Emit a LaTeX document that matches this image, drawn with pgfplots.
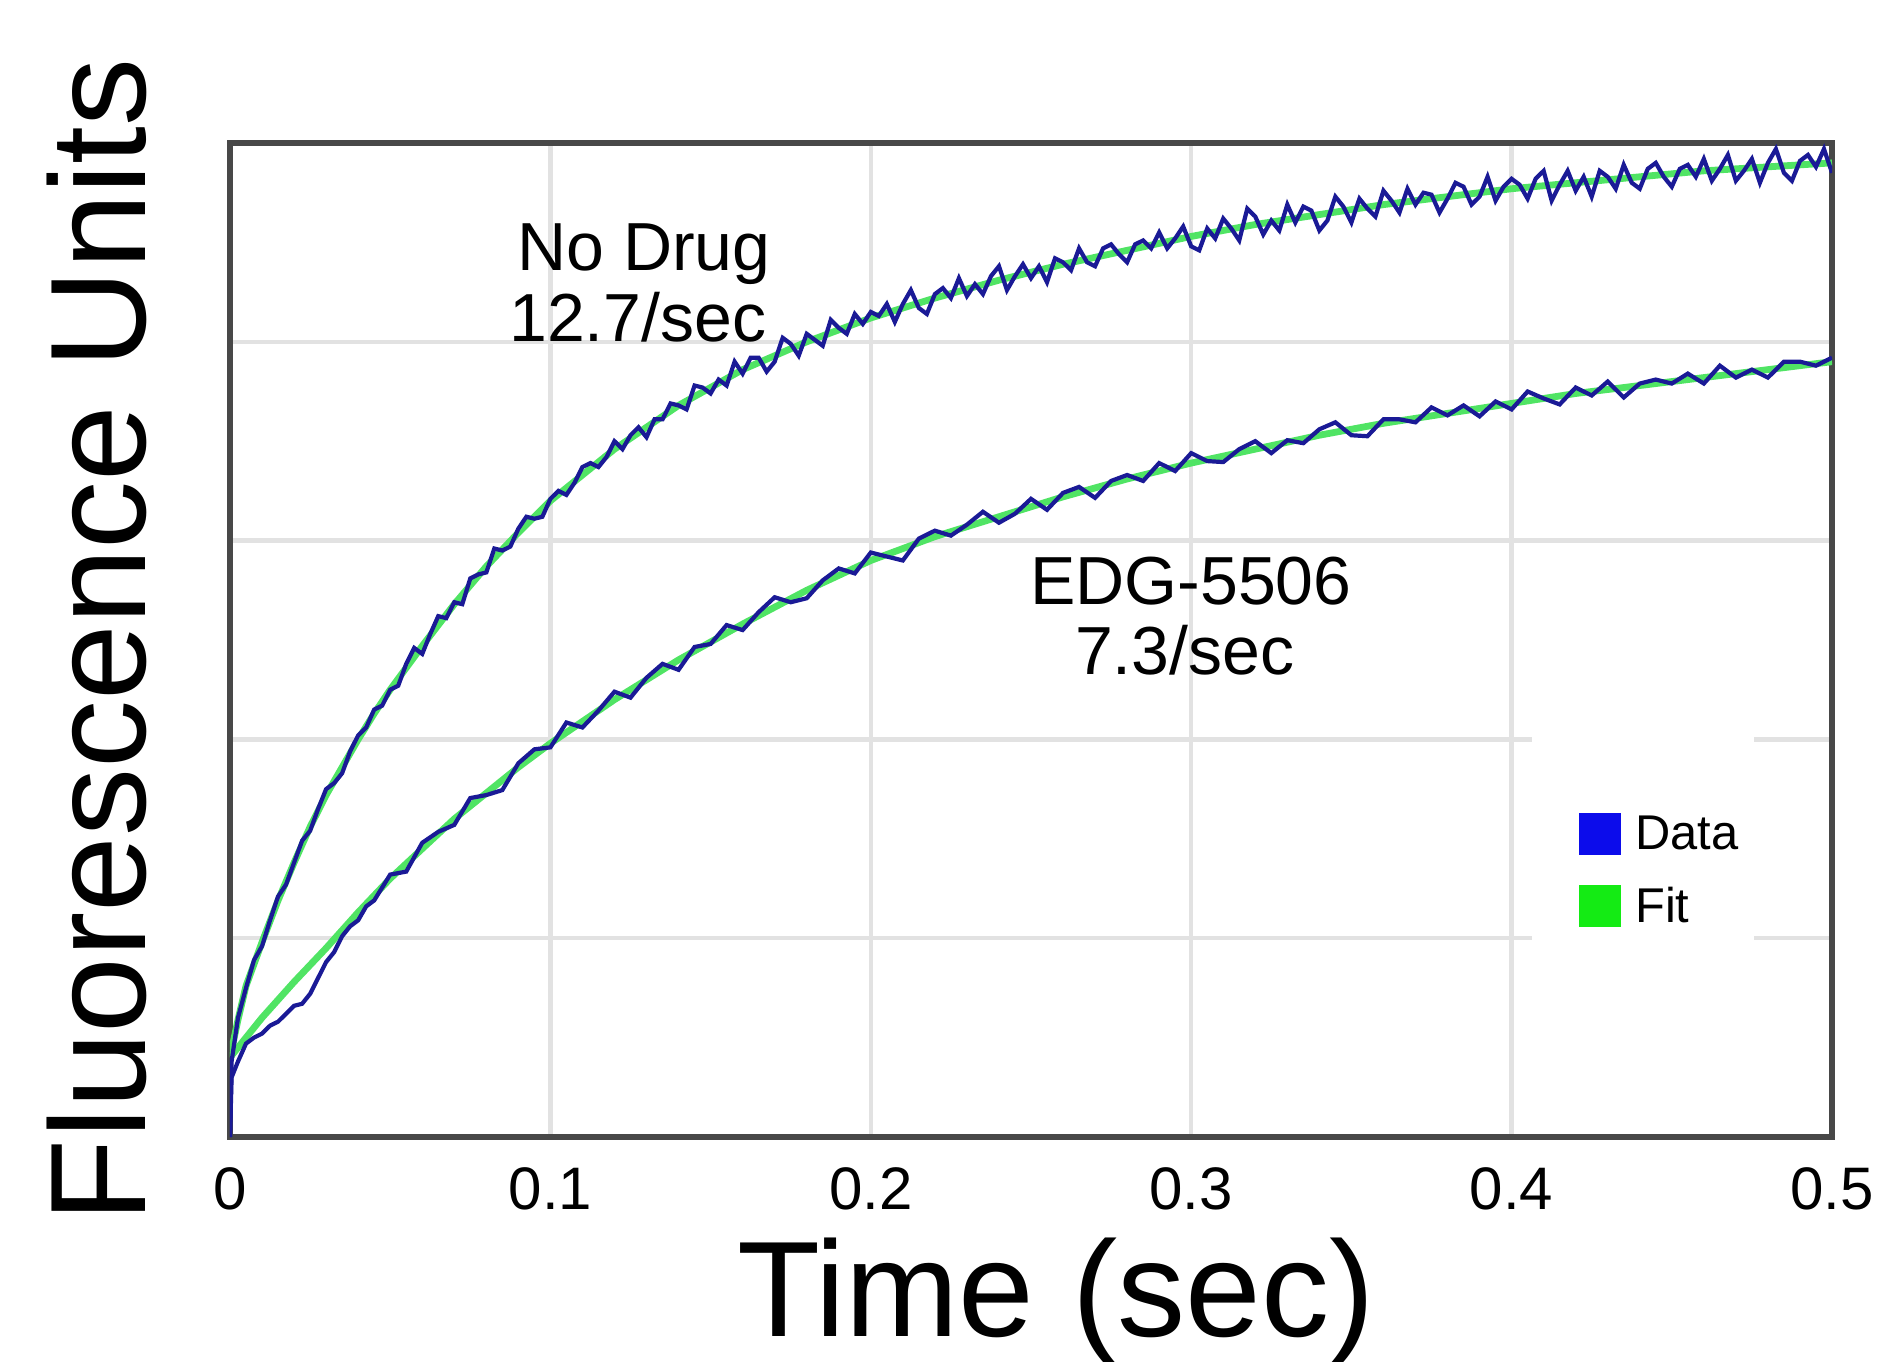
\documentclass[border=0pt]{standalone}
\usepackage{pgfplots}
\pgfplotsset{compat=1.18}
\usepackage{fontspec}
\setmainfont{Liberation Sans}
\definecolor{datablue}{RGB}{26,26,150}
\definecolor{fitgreen}{RGB}{80,228,100}
\definecolor{legblue}{RGB}{12,12,235}
\definecolor{leggreen}{RGB}{20,235,20}
\definecolor{gridgray}{RGB}{226,226,226}
\definecolor{framegray}{RGB}{72,72,72}
\begin{document}
\begin{tikzpicture}
\useasboundingbox (0,0) rectangle (474pt,340.25pt);
\begin{axis}[
  at={(57.5pt,56pt)}, anchor=south west,
  scale only axis, width=400.5pt, height=248.5pt,
  xmin=0, xmax=0.5, ymin=0, ymax=5,
  xtick={0,0.1,0.2,0.3,0.4,0.5},
  xticklabels={0,0.1,0.2,0.3,0.4,0.5},
  ytick={1,2,3,4}, yticklabels={},
  major tick length=0pt,
  grid=major,
  major grid style={draw=gridgray, line width=1.1pt},
  axis line style={draw=framegray, line width=1.5pt},
  xticklabel style={font=\fontsize{15}{15}\selectfont, text=black, inner sep=0pt, anchor=north, yshift=-7.5pt},
  xlabel={Time (sec)},
  xlabel style={font=\fontsize{34}{34}\selectfont, at={(axis description cs:0.5156,-0.201)}, anchor=base},
  ylabel={Fluorescence Units},
  ylabel style={font=\fontsize{34}{34}\selectfont, at={(axis description cs:-0.083,0.5)}, anchor=center},
  legend image code/.code={\fill[#1] (0pt,-4.8pt) rectangle (10.5pt,5.7pt);},
  legend style={at={(0.8415,0.327)}, anchor=north west, draw=none, fill=none,
    inner sep=0pt, row sep=7.4pt, column sep=0pt,
    font=\fontsize{12.2}{12.2}\selectfont,
    nodes={inner xsep=3.6pt, inner ysep=0pt, text=black}},
  legend cell align=left,
]
\fill[white] (axis description cs:0.813,0.193) rectangle (axis description cs:0.951,0.41);

% Fit: No Drug
\addplot[fitgreen, line width=1.7pt, forget plot] coordinates {
(0,0.40)(0.0025,0.59)(0.005,0.76)(0.0075,0.87)(0.01,0.98)(0.015,1.19)(0.02,1.38)(0.025,1.56)(0.03,1.72)(0.035,1.86)(0.04,2.00)(0.045,2.13)(0.05,2.25)(0.06,2.47)(0.07,2.68)(0.08,2.87)(0.09,3.04)(0.10,3.20)(0.11,3.33)(0.12,3.46)(0.13,3.57)(0.14,3.68)(0.15,3.77)(0.16,3.86)(0.17,3.93)(0.18,4.00)(0.19,4.06)(0.20,4.12)(0.22,4.22)(0.24,4.31)(0.26,4.39)(0.28,4.46)(0.30,4.53)(0.32,4.59)(0.34,4.64)(0.36,4.69)(0.38,4.73)(0.40,4.77)(0.42,4.80)(0.44,4.83)(0.46,4.86)(0.48,4.88)(0.50,4.90)
};
% Fit: EDG-5506
\addplot[fitgreen, line width=1.7pt, forget plot] coordinates {
(0,0.40)(0.005,0.50)(0.01,0.60)(0.02,0.78)(0.03,0.95)(0.04,1.13)(0.05,1.30)(0.06,1.45)(0.07,1.60)(0.08,1.73)(0.09,1.86)(0.10,1.98)(0.12,2.20)(0.14,2.40)(0.16,2.58)(0.18,2.75)(0.20,2.90)(0.22,3.02)(0.24,3.12)(0.26,3.22)(0.28,3.31)(0.30,3.39)(0.32,3.46)(0.34,3.53)(0.36,3.59)(0.38,3.64)(0.40,3.69)(0.42,3.74)(0.44,3.78)(0.46,3.82)(0.48,3.86)(0.50,3.90)
};
% Data: No Drug
\addplot[datablue, line width=1.05pt, forget plot] coordinates {
(0,0.00)(0.0005,0.38)(0.0025,0.60)(0.005,0.75)(0.0075,0.89)(0.01,0.96)(0.0125,1.09)(0.015,1.21)(0.0175,1.27)(0.02,1.38)(0.0225,1.49)(0.025,1.54)(0.0275,1.65)(0.03,1.75)(0.0325,1.78)(0.035,1.83)(0.0375,1.94)(0.04,2.02)(0.0425,2.06)(0.045,2.15)(0.0475,2.17)(0.05,2.25)
(0.0525,2.27)(0.055,2.38)(0.0575,2.46)(0.06,2.43)(0.0625,2.53)(0.065,2.62)(0.0675,2.61)(0.07,2.69)(0.0725,2.68)(0.075,2.81)(0.0775,2.83)(0.08,2.84)(0.0825,2.96)(0.085,2.95)(0.0875,2.97)(0.09,3.06)(0.0925,3.12)(0.095,3.11)(0.0975,3.12)(0.1,3.21)
(0.1025,3.25)(0.105,3.23)(0.1075,3.29)(0.11,3.37)(0.1125,3.39)(0.115,3.37)(0.1175,3.42)(0.12,3.50)(0.1225,3.46)(0.125,3.53)(0.1275,3.57)(0.13,3.52)(0.1325,3.61)(0.135,3.61)(0.1375,3.69)(0.14,3.68)(0.1425,3.66)(0.145,3.78)(0.1475,3.77)(0.15,3.74)
(0.1525,3.81)(0.155,3.78)(0.1575,3.90)(0.16,3.84)(0.1625,3.92)(0.165,3.92)(0.1675,3.85)(0.17,3.90)(0.1725,4.02)(0.175,3.99)(0.1775,3.93)(0.18,4.04)(0.1825,4.01)(0.185,3.98)(0.1875,4.11)(0.19,4.07)(0.1925,4.04)(0.195,4.14)(0.1975,4.09)(0.2,4.15)
(0.2025,4.13)(0.205,4.19)(0.2075,4.10)(0.21,4.19)(0.2125,4.26)(0.215,4.17)(0.2175,4.14)(0.22,4.24)(0.2225,4.27)(0.225,4.22)(0.2275,4.32)(0.23,4.23)(0.2325,4.29)(0.235,4.24)(0.2375,4.33)(0.24,4.38)(0.2425,4.26)(0.245,4.33)(0.2475,4.39)(0.25,4.32)
(0.2525,4.38)(0.255,4.30)(0.2575,4.42)(0.26,4.40)(0.2625,4.36)(0.265,4.47)(0.2675,4.40)(0.27,4.38)(0.2725,4.47)(0.275,4.49)(0.2775,4.44)(0.28,4.40)(0.2825,4.49)(0.285,4.51)(0.2875,4.47)(0.29,4.55)(0.2925,4.47)(0.295,4.52)(0.2975,4.58)(0.3,4.48)
(0.3025,4.46)(0.305,4.57)(0.3075,4.52)(0.31,4.62)(0.3125,4.57)(0.315,4.51)(0.3175,4.67)(0.32,4.63)(0.3225,4.54)(0.325,4.61)(0.3275,4.56)(0.33,4.69)(0.3325,4.60)(0.335,4.68)(0.3375,4.66)(0.34,4.56)(0.3425,4.61)(0.345,4.73)(0.3475,4.68)(0.35,4.60)
(0.3525,4.72)(0.355,4.67)(0.3575,4.63)(0.36,4.76)(0.3625,4.71)(0.365,4.65)(0.3675,4.77)(0.37,4.69)(0.3725,4.75)(0.375,4.74)(0.3775,4.65)(0.38,4.72)(0.3825,4.80)(0.385,4.78)(0.3875,4.69)(0.39,4.73)(0.3925,4.83)(0.395,4.71)(0.3975,4.78)(0.4,4.82)
(0.4025,4.79)(0.405,4.72)(0.4075,4.82)(0.41,4.86)(0.4125,4.71)(0.415,4.79)(0.4175,4.86)(0.42,4.76)(0.4225,4.83)(0.425,4.73)(0.4275,4.86)(0.43,4.83)(0.4325,4.77)(0.435,4.89)(0.4375,4.80)(0.44,4.77)(0.4425,4.87)(0.445,4.90)(0.4475,4.83)(0.45,4.78)
(0.4525,4.87)(0.455,4.89)(0.4575,4.83)(0.46,4.92)(0.4625,4.81)(0.465,4.87)(0.4675,4.94)(0.47,4.81)(0.4725,4.86)(0.475,4.92)(0.4775,4.80)(0.48,4.90)(0.4825,4.97)(0.485,4.85)(0.4875,4.81)(0.49,4.91)(0.4925,4.94)(0.495,4.88)(0.4975,4.97)(0.5,4.85)
};
% Data: EDG-5506
\addplot[datablue, line width=1.05pt, forget plot] coordinates {
(0,0.00)(0.0005,0.30)(0.0025,0.38)(0.005,0.47)(0.0075,0.50)(0.01,0.52)(0.0125,0.56)(0.015,0.58)(0.0175,0.62)(0.02,0.66)(0.0225,0.67)(0.025,0.72)(0.0275,0.80)(0.03,0.88)(0.0325,0.93)(0.035,1.01)(0.0375,1.06)(0.04,1.09)(0.0425,1.16)(0.045,1.19)
(0.05,1.32)(0.055,1.335)(0.06,1.48)(0.065,1.535)(0.07,1.57)(0.075,1.705)(0.08,1.72)(0.085,1.745)(0.09,1.88)(0.095,1.95)(0.1,1.96)(0.105,2.085)(0.11,2.06)(0.115,2.145)(0.12,2.24)(0.125,2.21)(0.13,2.31)(0.135,2.38)(0.14,2.35)(0.145,2.465)
(0.15,2.48)(0.155,2.575)(0.16,2.55)(0.165,2.64)(0.17,2.715)(0.175,2.69)(0.18,2.71)(0.185,2.80)(0.19,2.86)(0.195,2.835)(0.2,2.94)(0.205,2.92)(0.21,2.90)(0.215,3.01)(0.22,3.05)(0.225,3.025)(0.23,3.08)(0.235,3.145)(0.24,3.09)(0.245,3.135)
(0.25,3.21)(0.255,3.155)(0.26,3.24)(0.265,3.27)(0.27,3.215)(0.275,3.30)(0.28,3.33)(0.285,3.30)(0.29,3.39)(0.295,3.35)(0.3,3.44)(0.305,3.40)(0.31,3.395)(0.315,3.46)(0.32,3.50)(0.325,3.44)(0.33,3.505)(0.335,3.49)(0.34,3.56)(0.345,3.595)
(0.35,3.53)(0.355,3.525)(0.36,3.61)(0.365,3.61)(0.37,3.595)(0.375,3.67)(0.38,3.63)(0.385,3.68)(0.39,3.625)(0.395,3.70)(0.4,3.66)(0.405,3.75)(0.41,3.715)(0.415,3.685)(0.42,3.77)(0.425,3.73)(0.43,3.80)(0.435,3.72)(0.44,3.79)(0.445,3.81)
(0.45,3.79)(0.455,3.84)(0.46,3.79)(0.465,3.88)(0.47,3.82)(0.475,3.86)(0.48,3.82)(0.485,3.90)(0.49,3.90)(0.495,3.88)(0.5,3.92)
};

\addlegendimage{fill=legblue, draw=none}
\addlegendentry{Data}
\addlegendimage{fill=leggreen, draw=none}
\addlegendentry{Fit}

\node[anchor=base, font=\fontsize{17}{17}\selectfont, text=black] at (axis cs:0.1292,4.36) {No Drug};
\node[anchor=base, font=\fontsize{17}{17}\selectfont, text=black] at (axis cs:0.1273,4.00) {12.7/sec};
\node[anchor=base, font=\fontsize{17}{17}\selectfont, text=black] at (axis cs:0.2999,2.68) {EDG-5506};
\node[anchor=base, font=\fontsize{17}{17}\selectfont, text=black] at (axis cs:0.298,2.326) {7.3/sec};
\end{axis}
\end{tikzpicture}
\end{document}
